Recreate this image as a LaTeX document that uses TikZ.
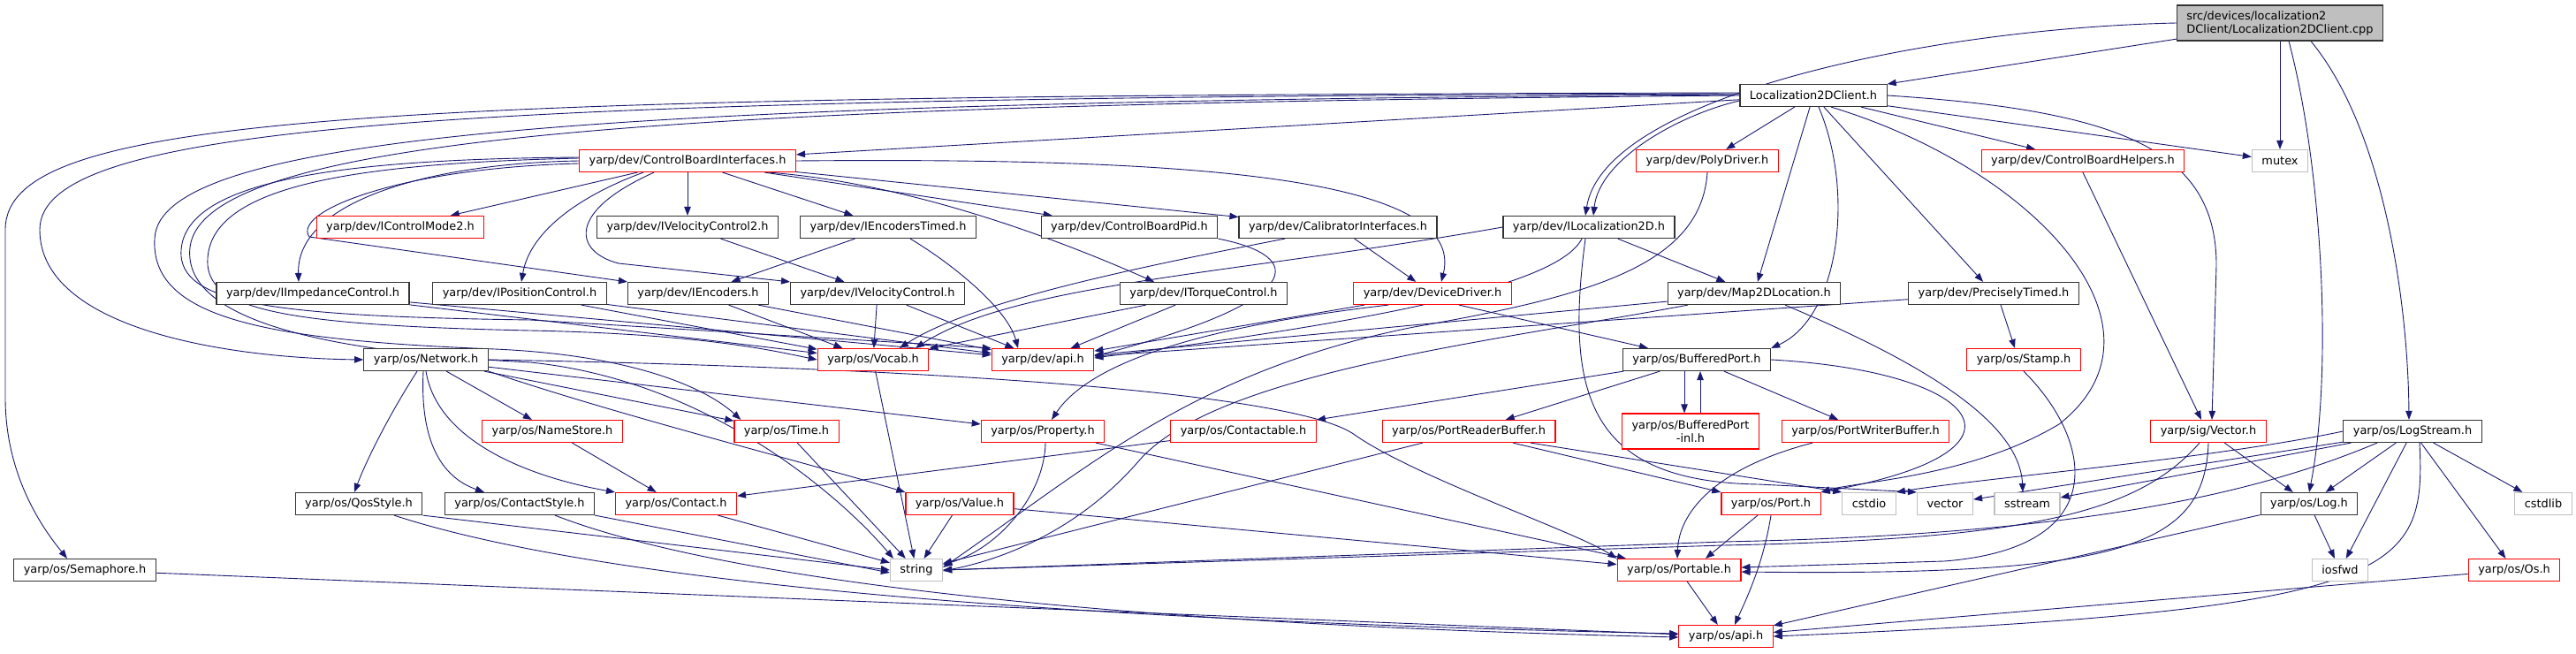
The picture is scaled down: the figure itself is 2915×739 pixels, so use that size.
\documentclass[tikz,border=0pt]{standalone}
\usepackage{fontspec}
\setmainfont{DejaVu Sans}
\usepackage{tikz}
\usetikzlibrary{arrows.meta, backgrounds}
\definecolor{edgecol}{HTML}{191970}
\definecolor{cutcol}{HTML}{FF0000}
\definecolor{extcol}{HTML}{BFBFBF}

\begin{document}
\begin{tikzpicture}[
  x=1pt, y=-1pt,
  font=\fontsize{12.9}{15}\selectfont,
  >={Triangle[length=10pt,width=7.5pt]},
  every node/.style={align=center},
  hdr/.style={draw=black!80, fill=white, line width=1.2pt, minimum height=25pt,
              inner xsep=11pt, inner ysep=2pt},
  cut/.style={hdr, draw=cutcol},
  ext/.style={hdr, draw=extcol},
  arr/.style={->, draw=edgecol, line width=0.9pt}
]
\useasboundingbox (0,0) rectangle (2915,739);

%% ── Row 0 : source file ───────────────────────────────────────────────────
\node[hdr, fill=extcol, align=left, minimum height=40pt] (root) at (2580,26)
      {src/devices/localization2\\DClient/Localization2DClient.cpp};

%% ── Row 1 : client header ─────────────────────────────────────────────────
\node[hdr] (client) at (2052,108) {Localization2DClient.h};

%% ── Row 2 ─────────────────────────────────────────────────────────────────
\node[cut] (cbi)    at (778,182)  {yarp/dev/ControlBoardInterfaces.h};
\node[cut] (poly)   at (1932,182) {yarp/dev/PolyDriver.h};
\node[cut] (cbhelp) at (2357,182) {yarp/dev/ControlBoardHelpers.h};
\node[ext] (mutex)  at (2580,182) {mutex};

%% ── Row 3 ─────────────────────────────────────────────────────────────────
\node[cut] (mode2)    at (453,257)  {yarp/dev/IControlMode2.h};
\node[hdr] (vel2)     at (778,257)  {yarp/dev/IVelocityControl2.h};
\node[hdr] (enctimed) at (1005,257) {yarp/dev/IEncodersTimed.h};
\node[hdr] (pid)      at (1278,257) {yarp/dev/ControlBoardPid.h};
\node[hdr] (calib)    at (1514,257) {yarp/dev/CalibratorInterfaces.h};
\node[hdr] (iloc)     at (1798,257) {yarp/dev/ILocalization2D.h};

%% ── Row 4 ─────────────────────────────────────────────────────────────────
\node[hdr] (imped)  at (354,332)  {yarp/dev/IImpedanceControl.h};
\node[hdr] (ipos)   at (588,332)  {yarp/dev/IPositionControl.h};
\node[hdr] (ienc)   at (790,332)  {yarp/dev/IEncoders.h};
\node[hdr] (ivel)   at (993,332)  {yarp/dev/IVelocityControl.h};
\node[hdr] (itorq)  at (1362,332) {yarp/dev/ITorqueControl.h};
\node[cut] (devdrv) at (1621,332) {yarp/dev/DeviceDriver.h};
\node[hdr] (map2d)  at (1985,332) {yarp/dev/Map2DLocation.h};
\node[hdr] (ptimed) at (2256,332) {yarp/dev/PreciselyTimed.h};

%% ── Row 5 ─────────────────────────────────────────────────────────────────
\node[hdr] (network) at (482,407)  {yarp/os/Network.h};
\node[cut] (vocab)   at (988,407)  {yarp/os/Vocab.h};
\node[cut] (devapi)  at (1180,407) {yarp/dev/api.h};
\node[hdr] (bport)   at (1920,407) {yarp/os/BufferedPort.h};
\node[cut] (stamp)   at (2290,407) {yarp/os/Stamp.h};

%% ── Row 6 ─────────────────────────────────────────────────────────────────
\node[cut] (namestore)   at (625,488)  {yarp/os/NameStore.h};
\node[cut] (time)        at (890,488)  {yarp/os/Time.h};
\node[cut] (prop)        at (1180,488) {yarp/os/Property.h};
\node[cut] (contactable) at (1407,488) {yarp/os/Contactable.h};
\node[cut] (preader)     at (1662,488) {yarp/os/PortReaderBuffer.h};
\node[cut, minimum height=40pt] (bpinl) at (1913,488) {yarp/os/BufferedPort\\-inl.h};
\node[cut] (pwriter)     at (2111,488) {yarp/os/PortWriterBuffer.h};
\node[cut] (sigvec)      at (2499,488) {yarp/sig/Vector.h};
\node[hdr] (logstream)   at (2730,488) {yarp/os/LogStream.h};

%% ── Row 7 ─────────────────────────────────────────────────────────────────
\node[hdr] (qos)     at (406,570)  {yarp/os/QosStyle.h};
\node[hdr] (cstyle)  at (588,570)  {yarp/os/ContactStyle.h};
\node[cut] (contact) at (765,570)  {yarp/os/Contact.h};
\node[cut] (value)   at (1086,570) {yarp/os/Value.h};
\node[cut] (port)    at (2004,570) {yarp/os/Port.h};
\node[ext] (cstdio)  at (2115,570) {cstdio};
\node[ext] (stdvec)  at (2201,570) {vector};
\node[ext] (sstream) at (2294,570) {sstream};
\node[hdr] (log)     at (2613,570) {yarp/os/Log.h};
\node[ext] (cstdlib) at (2878,570) {cstdlib};

%% ── Row 8 / 9 ─────────────────────────────────────────────────────────────
\node[hdr] (sema)     at (96,645)   {yarp/os/Semaphore.h};
\node[ext] (string)   at (1037,645) {string};
\node[cut] (portable) at (1900,645) {yarp/os/Portable.h};
\node[ext] (iosfwd)   at (2648,645) {iosfwd};
\node[cut] (os)       at (2845,645) {yarp/os/Os.h};
\node[cut] (osapi)    at (1953,720) {yarp/os/api.h};

\begin{scope}[on background layer]
%% ── root includes ─────────────────────────────────────────────────────────
\draw[arr] (root) -- (client);
\draw[arr] (root) -- (mutex);
\draw[arr] (root.west) .. controls (2180,32) and (1815,110) .. ([xshift=-4pt]iloc.north);
\draw[arr] ([xshift=10pt]root.south) .. controls (2628,190) and (2640,420) .. (log.north);
\draw[arr] ([xshift=35pt]root.south) .. controls (2700,150) and (2725,350) .. ([xshift=-4pt]logstream.north);

%% ── client includes ───────────────────────────────────────────────────────
\foreach \t in {cbi, poly, cbhelp, mutex, map2d, ptimed}
  \draw[arr] (client) -- (\t);
\draw[arr] ([yshift=-6pt]client.west) .. controls (1900,130) and (1810,180) .. ([xshift=5pt]iloc.north);
\draw[arr] ([xshift=6pt]client.south) .. controls (2100,220) and (2080,360) .. (bport.north east);
\draw[arr] ([xshift=20pt]client.south) .. controls (2300,190) and (2470,370) .. (2330,480)
      .. controls (2230,540) and (2100,545) .. (port.north east);
\draw[arr] (client.east) .. controls (2400,125) and (2508,170) .. (2508,300) -- ([xshift=4pt]sigvec.north);
\draw[arr] ([yshift=2pt]client.west) .. controls (500,110) and (45,140) .. (45,260)
      .. controls (45,370) and (250,405) .. (network.west);
\draw[arr] ([yshift=3pt]client.west) .. controls (400,108) and (6,130) .. (6,260) -- (6,450)
      .. controls (6,540) and (50,600) .. ([xshift=-20pt]sema.north);
\draw[arr] ([yshift=1pt]client.west) .. controls (700,115) and (180,150) .. (175,270)
      .. controls (170,360) and (300,385) .. (560,395)
      .. controls (720,402) and (800,440) .. ([xshift=8pt]time.north west);
\draw[arr] (client.west) .. controls (800,118) and (230,150) .. (215,280)
      .. controls (205,370) and (400,400) .. (600,410)
      .. controls (800,430) and (950,560) .. ([xshift=4pt]string.north west);

%% ── ControlBoardInterfaces includes ───────────────────────────────────────
\foreach \t in {mode2, vel2, enctimed, pid, calib}
  \draw[arr] (cbi) -- (\t);
\draw[arr] (cbi.west) .. controls (480,185) and (335,230) .. ([xshift=-16pt]imped.north);
\draw[arr] ([yshift=-3pt]cbi.west) .. controls (450,190) and (330,240) .. (350,268) -- (ienc.north west);
\draw[arr] ([yshift=3pt]cbi.west) .. controls (400,185) and (230,210) .. (235,300)
      .. controls (240,350) and (320,368) .. (600,374) .. controls (800,378) and (880,398) .. (vocab.west);
\draw[arr] ([yshift=4pt]cbi.west) .. controls (380,180) and (200,205) .. (205,290)
      .. controls (210,345) and (320,358) .. (600,362) -- (devapi.north west);
\draw[arr] ([xshift=-50pt]cbi.south) .. controls (660,220) and (600,260) .. ([xshift=2pt]ipos.north);
\draw[arr] ([xshift=-38pt]cbi.south) .. controls (640,240) and (650,285) .. (700,298) -- (ivel.north west);
\draw[arr] ([xshift=92pt]cbi.south) .. controls (1000,205) and (1150,250) .. ([xshift=-56pt]itorq.north);
\draw[arr] (cbi.east) .. controls (1350,178) and (1660,200) .. ([xshift=10pt]devdrv.north);

%% ── row 3 includes ────────────────────────────────────────────────────────
\draw[arr] (vel2) -- (ivel);
\draw[arr] (enctimed) -- (ienc);
\draw[arr] ([xshift=25pt]enctimed.south) .. controls (1080,300) and (1140,350) .. ([xshift=-28pt]devapi.north);
\draw[arr] (pid.south east) .. controls (1480,290) and (1480,340) .. ([yshift=4pt]devapi.east);
\draw[arr] (calib) -- (devdrv);
\draw[arr] ([xshift=-60pt]calib.south) .. controls (1300,300) and (1100,340) .. ([xshift=30pt]vocab.north);
\draw[arr] (iloc.west) .. controls (1400,310) and (1150,320) .. ([xshift=48pt]vocab.north);
\draw[arr] ([xshift=-8pt]iloc.south) .. controls (1760,330) and (1500,370) .. ([yshift=2pt]devapi.east);
\draw[arr] (iloc) -- (map2d);
\draw[arr] ([xshift=-4pt]iloc.south) .. controls (1770,450) and (1800,545) .. (1990,548) -- (stdvec.north west);
\draw[arr] (poly.south) .. controls (1925,300) and (1800,335) .. (1600,370)
      .. controls (1350,420) and (1230,530) .. ([yshift=3pt]string.east);
\draw[arr] (cbhelp.south) -- ([xshift=-8pt]sigvec.north);

%% ── row 4 includes ────────────────────────────────────────────────────────
\foreach \s in {imped, ipos, ienc, ivel, itorq} {
  \draw[arr] (\s) -- (vocab);
  \draw[arr] (\s) -- (devapi);
}
\draw[arr] (devdrv) -- (devapi);
\draw[arr] ([xshift=-50pt]devdrv.south) .. controls (1400,365) and (1240,400) .. ([xshift=10pt]prop.north);
\draw[arr] ([xshift=30pt]devdrv.south) -- ([xshift=-55pt]bport.north);
\draw[arr] (map2d) -- (devapi);
\draw[arr] ([xshift=-75pt]map2d.south) .. controls (1700,385) and (1380,420) .. (1290,520)
      .. controls (1230,590) and (1150,630) .. ([yshift=-1pt]string.east);
\draw[arr] ([xshift=35pt]map2d.south) .. controls (2150,400) and (2285,470) .. ([xshift=-5pt]sstream.north);
\draw[arr] (ptimed) -- (devapi);
\draw[arr] ([xshift=8pt]ptimed.south) -- ([xshift=-10pt]stamp.north);

%% ── row 5 includes ────────────────────────────────────────────────────────
\foreach \t in {namestore, time, prop}
  \draw[arr] (network) -- (\t);
\draw[arr] ([xshift=-10pt]network.south) .. controls (440,470) and (415,520) .. ([xshift=-5pt]qos.north);
\draw[arr] ([xshift=-3pt]network.south) .. controls (475,500) and (500,540) .. ([xshift=-40pt]cstyle.north);
\draw[arr] (network.south) .. controls (495,500) and (600,540) .. (contact.north west);
\draw[arr] (network.south east) .. controls (700,470) and (900,520) .. (value.north west);
\draw[arr] (network.east) .. controls (1000,415) and (1450,440) .. (1530,490)
      .. controls (1600,540) and (1780,600) .. (portable.north west);
\draw[arr] (vocab) -- (string);
\draw[arr] ([xshift=-14pt]bport.south) -- ([xshift=-7pt]bpinl.north);
\draw[arr] ([xshift=11pt]bpinl.north) -- ([xshift=4pt]bport.south);
\foreach \t in {contactable, preader, pwriter}
  \draw[arr] (bport) -- (\t);
\draw[arr] (bport.east) .. controls (2240,420) and (2320,510) .. (port.north east);
\draw[arr] (stamp.south) .. controls (2370,500) and (2390,620) .. (2200,635) -- ([yshift=3pt]portable.east);

%% ── row 6 includes ────────────────────────────────────────────────────────
\draw[arr] (namestore) -- (contact);
\draw[arr] (time) -- (string);
\draw[arr] ([xshift=3pt]prop.south) .. controls (1182,560) and (1130,620) .. ([yshift=6pt]string.east);
\draw[arr] (prop) -- (portable);
\draw[arr] (contactable) -- (contact);
\draw[arr] (preader) -- (string);
\draw[arr] ([xshift=50pt]preader.south) -- (port.north west);
\draw[arr] ([xshift=70pt]preader.south) -- (cstdio.north west);
\draw[arr] ([xshift=-60pt]pwriter.south) .. controls (1940,530) and (1900,580) .. ([xshift=-2pt]portable.north);
\draw[arr] (sigvec) -- (log);
\draw[arr] ([xshift=-10pt]sigvec.south) .. controls (2420,580) and (2300,610) .. (1950,617) -- (string.east);
\draw[arr] (sigvec.south) .. controls (2495,620) and (2400,652) .. ([yshift=-2pt]portable.east);
\foreach \t in {log, iosfwd, cstdlib, os, stdvec, sstream}
  \draw[arr] (logstream) -- (\t);
\draw[arr] ([xshift=-40pt]logstream.south) .. controls (2550,560) and (2350,605) .. (1950,613) -- (string.east);
\draw[arr] (logstream.west) .. controls (2500,520) and (2250,540) .. (cstdio.north east);
\draw[arr] ([xshift=8pt]logstream.south) .. controls (2745,650) and (2720,690) .. (osapi.east);

%% ── row 7 / 8 includes ────────────────────────────────────────────────────
\draw[arr] (qos.south east) -- (string.west);
\draw[arr] ([xshift=40pt]qos.south) .. controls (650,650) and (1100,700) .. ([yshift=3pt]osapi.west);
\draw[arr] (cstyle.south east) -- ([yshift=-3pt]string.west);
\draw[arr] ([xshift=40pt]cstyle.south) .. controls (800,650) and (1200,705) .. ([yshift=-1pt]osapi.west);
\draw[arr] (contact) -- (string);
\draw[arr] (value) -- (string);
\draw[arr] (value) -- (portable);
\draw[arr] ([xshift=-15pt]port.south) -- ([xshift=30pt]portable.north);
\draw[arr] (port.south) .. controls (1995,640) and (1975,680) .. ([xshift=10pt]osapi.north);
\draw[arr] (log) -- (iosfwd);
\draw[arr] (log) -- (osapi);
\draw[arr] (sema) -- (osapi);
\draw[arr] (portable) -- (osapi);
\draw[arr] (os) -- (osapi);
\end{scope}

\end{tikzpicture}
\end{document}
